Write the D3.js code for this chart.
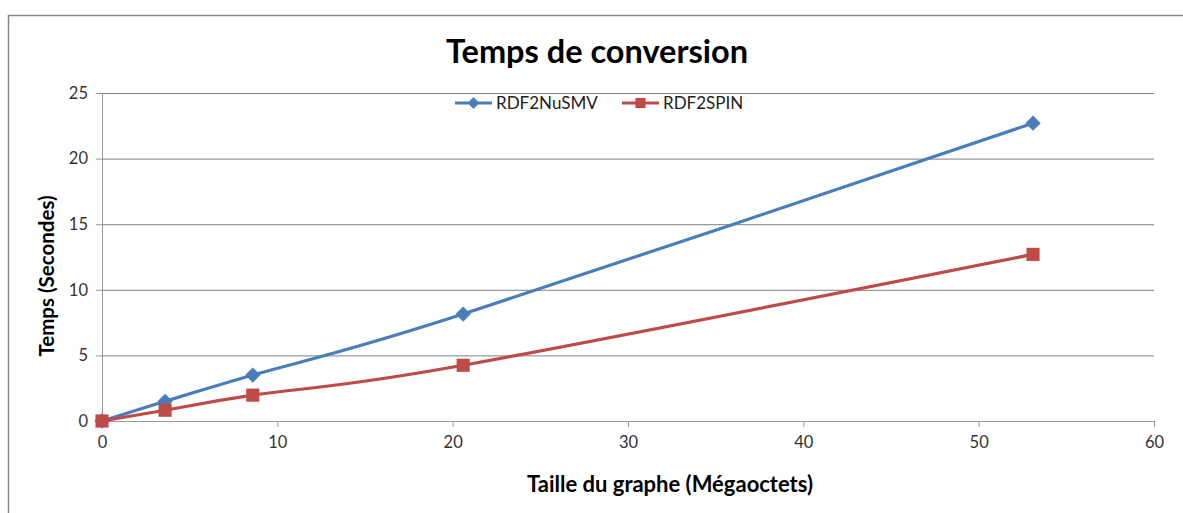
<!DOCTYPE html>
<html>
<head>
<meta charset="utf-8">
<script src="https://cdn.jsdelivr.net/npm/d3@7"></script>
<style>
  body { margin: 0; background: #fff; }
  svg text { font-family: Lato, "Open Sans", sans-serif; }
</style>
</head>
<body>
<svg id="chart" width="1183" height="513"></svg>
<script>
// data
var tailles = [0, 3.6, 8.6, 20.6, 53.1];
var nusmv = [0, 1.5, 3.5, 8.15, 22.7];
var spin = [0, 0.82, 1.97, 4.25, 12.7];
var seriesNames = ["RDF2NuSMV", "RDF2SPIN"];
var xTicks = [0, 10, 20, 30, 40, 50, 60];
var yTicks = [0, 5, 10, 15, 20, 25];

var svg = d3.select("#chart");

var x = d3.scaleLinear().domain([0, 60]).range([102, 1154]);
var y = d3.scaleLinear().domain([0, 25]).range([421, 93]);

// chart border
svg.append("path")
  .attr("d", "M8.5,513 V15.5 H1183")
  .attr("fill", "none").attr("stroke", "#868686").attr("stroke-width", 1.5);

// title
svg.append("text").attr("x", 597).attr("y", 63).attr("text-anchor", "middle")
  .attr("font-size", 32.5).attr("font-weight", "bold").attr("fill", "#000")
  .text("Temps de conversion");

// gridlines
var yGrid = d3.axisLeft(y).tickValues(yTicks.slice(1)).tickSize(-(1154 - 102)).tickFormat("");
svg.append("g").attr("transform", "translate(102,0)").call(yGrid)
  .call(function(g) {
    g.select(".domain").remove();
    g.selectAll("line").attr("stroke", "#808080").attr("stroke-width", 1);
  });

// axes
var yAxis = d3.axisLeft(y).tickValues(yTicks).tickSize(6).tickPadding(8);
svg.append("g").attr("transform", "translate(102,0)").call(yAxis)
  .call(function(g) {
    g.select(".domain").attr("stroke", "#9a9a9a").attr("d", "M0.5,93V421");
    g.selectAll("line").attr("stroke", "#9a9a9a");
    g.selectAll("text").attr("font-size", 16.5).attr("fill", "#333")
      .attr("font-family", "Lato, sans-serif");
  });

var xAxis = d3.axisBottom(x).tickValues(xTicks).tickSize(6).tickPadding(9);
svg.append("g").attr("transform", "translate(0,421)").call(xAxis)
  .call(function(g) {
    g.select(".domain").attr("stroke", "#9a9a9a").attr("d", "M102,0.5H1154");
    g.selectAll("line").attr("stroke", "#9a9a9a");
    g.selectAll("text").attr("font-size", 16.5).attr("fill", "#333")
      .attr("font-family", "Lato, sans-serif");
  });

// axis titles
svg.append("text").attr("x", 670).attr("y", 492).attr("text-anchor", "middle")
  .attr("font-size", 22).attr("font-weight", "bold").text("Taille du graphe (Mégaoctets)");
svg.append("text").attr("transform", "translate(54,276) rotate(-90)").attr("text-anchor", "middle")
  .attr("font-size", 20.5).attr("font-weight", "bold").text("Temps  (Secondes)");

var line = d3.line()
  .x(function(d) { return x(d[0]); })
  .y(function(d) { return y(d[1]); })
  .curve(d3.curveCardinal.tension(0));

var series = [
  { name: seriesNames[0], values: nusmv, color: "#4a7ebb", marker: d3.symbolDiamond2, size: 150 },
  { name: seriesNames[1], values: spin, color: "#be4b48", marker: d3.symbolSquare2, size: 220 }
];

series.forEach(function(s) {
  var pts = tailles.map(function(t, i) { return [t, s.values[i]]; });
  svg.append("path").attr("d", line(pts)).attr("fill", "none")
    .attr("stroke", s.color).attr("stroke-width", 3.2);
  svg.selectAll(null).data(pts).enter().append("path")
    .attr("transform", function(d) { return "translate(" + x(d[0]) + "," + y(d[1]) + ")"; })
    .attr("d", d3.symbol().type(s.marker).size(s.size))
    .attr("fill", s.color);
});

// legend
var legendX = [455, 622];
series.forEach(function(s, i) {
  var g = svg.append("g").attr("transform", "translate(" + legendX[i] + ",103)");
  g.append("line").attr("x1", 0).attr("x2", 37).attr("stroke", s.color).attr("stroke-width", 3.2);
  g.append("path").attr("transform", "translate(18.5,0)")
    .attr("d", d3.symbol().type(s.marker).size(s.size * 0.6)).attr("fill", s.color);
  g.append("text").attr("x", 41).attr("y", 6).attr("font-size", 17).attr("fill", "#222").text(s.name);
});
</script>
</body>
</html>
